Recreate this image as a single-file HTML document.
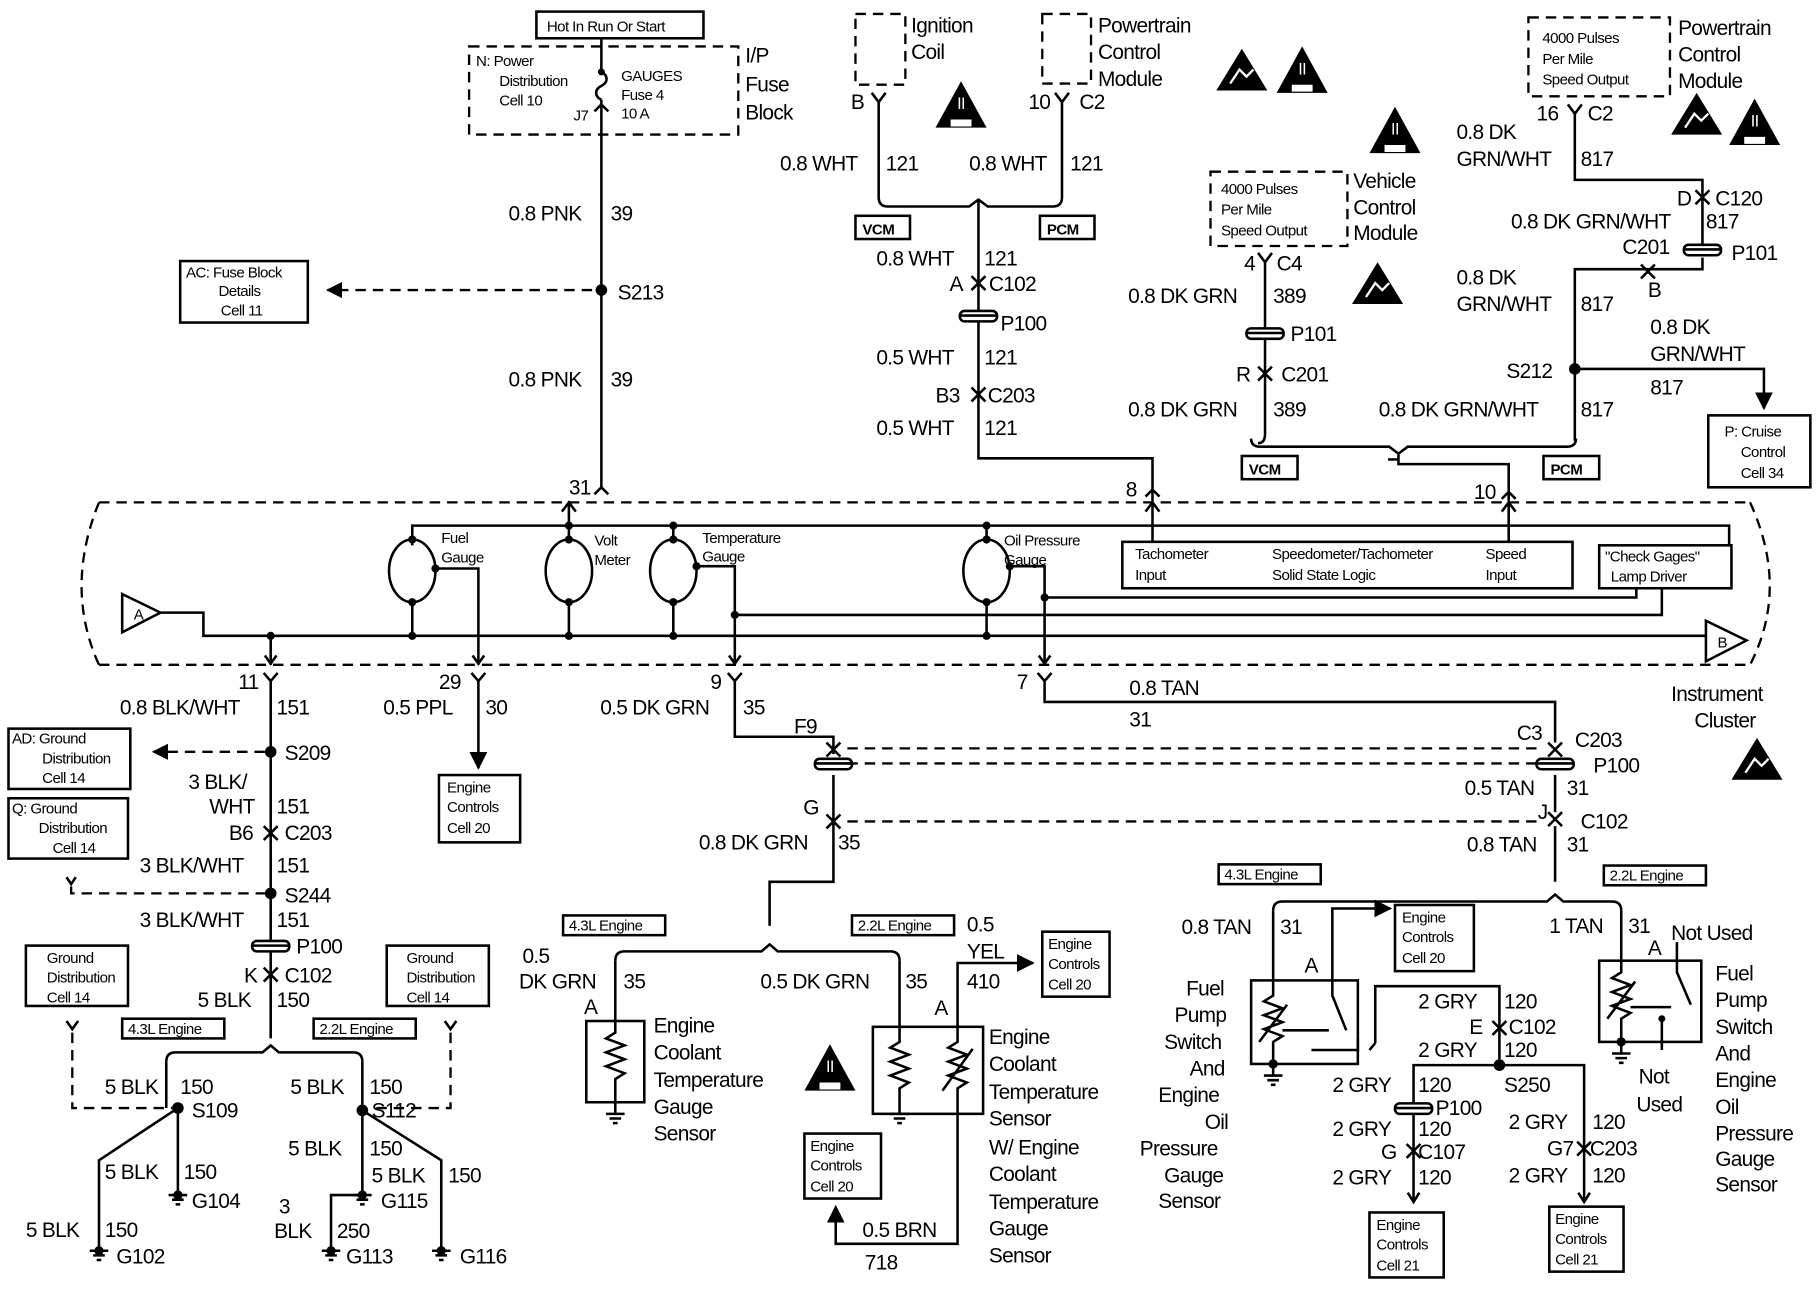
<!DOCTYPE html>
<html><head><meta charset="utf-8"><style>
html,body{margin:0;padding:0;background:#fff;}
svg{display:block}
text{font-family:"Liberation Sans",Arial,sans-serif;fill:#000}
.t{font-size:18px;letter-spacing:-0.6px}
.s{font-size:13px;letter-spacing:-0.5px}
.l{stroke:#000;stroke-width:2.2;fill:none}
.d{stroke:#000;stroke-width:2;fill:none;stroke-dasharray:9,6}
.b{stroke:#000;stroke-width:2.2;fill:#fff}
</style></head><body>
<svg width="1820" height="1296" viewBox="0 0 1568 1117" xmlns="http://www.w3.org/2000/svg">
<defs>
<marker id="ar" viewBox="0 0 10 10" refX="9" refY="5" markerWidth="7" markerHeight="7" orient="auto"><path d="M0,0L10,5L0,10z" fill="#000"/></marker>
<g id="tri"><path d="M0,40L22,0L44,40z" fill="#000"/><path d="M13,33h18v6h-18z" fill="#fff"/><text x="22" y="24" class="s" style="fill:#fff;font-size:14px" text-anchor="middle">II</text></g>
<g id="esd"><path d="M0,36L22,0L44,36z" fill="#000"/><path d="M12,30l8,-12l6,6l6,-6" stroke="#fff" stroke-width="2" fill="none"/></g>
</defs>

<!-- TOP LEFT FUSE -->
<rect x="462" y="10" width="144" height="23" class="l"/>
<text x="471" y="27" class="s">Hot In Run Or Start</text>
<rect x="404" y="40" width="232" height="76" class="d"/>
<text x="410" y="57" class="s">N: Power</text><text x="430" y="74" class="s">Distribution</text><text x="430" y="91" class="s">Cell 10</text>
<text x="535" y="70" class="s">GAUGES</text><text x="535" y="86" class="s">Fuse 4</text><text x="535" y="102" class="s">10 A</text>
<text x="494" y="104" class="s">J7</text>
<text x="642" y="54" class="t">I/P</text><text x="642" y="79" class="t">Fuse</text><text x="642" y="103" class="t">Block</text>
<path d="M518,33V62 M518,62c6,3 6,9 0,12c-6,3 -6,9 0,12 M518,86V420" class="l"/>
<circle cx="518" cy="62" r="3"/>
<path d="M512,96l6,-6l6,6" class="l"/>
<text x="438" y="190" class="t">0.8 PNK</text><text x="526" y="190" class="t">39</text>
<text x="438" y="333" class="t">0.8 PNK</text><text x="526" y="333" class="t">39</text>
<circle cx="518" cy="250" r="5"/><text x="532" y="258" class="t">S213</text>
<path d="M510,250H282" class="d" marker-end="url(#ar)"/>
<rect x="155" y="225" width="110" height="53" class="l"/>
<text x="160" y="239" class="s">AC: Fuse Block</text><text x="188" y="255" class="s">Details</text><text x="190" y="272" class="s">Cell 11</text>
<text x="490" y="426" class="t">31</text><path d="M512,426l6,-6l6,6" class="l"/>

<!-- IGNITION COIL / PCM -->
<rect x="737" y="12" width="43" height="61" class="d"/>
<text x="785" y="28" class="t">Ignition</text><text x="785" y="51" class="t">Coil</text>
<use href="#tri" x="806" y="70"/>
<text x="733" y="94" class="t">B</text><path d="M751,80l6,8l6,-8 M757,88V170q0,8 8,8H835l8,-6l8,6H907q8,0 8,-8V88 M909,80l6,8l6,-8" class="l"/>
<rect x="898" y="12" width="42" height="60" class="d"/>
<text x="946" y="28" class="t">Powertrain</text><text x="946" y="51" class="t">Control</text><text x="946" y="74" class="t">Module</text>
<use href="#esd" x="1048" y="42"/><use href="#tri" x="1100" y="40"/>
<text x="886" y="94" class="t">10</text><text x="930" y="94" class="t">C2</text>
<text x="672" y="147" class="t">0.8 WHT</text><text x="763" y="147" class="t">121</text>
<text x="835" y="147" class="t">0.8 WHT</text><text x="922" y="147" class="t">121</text>
<rect x="737" y="186" width="47" height="20" class="l"/><text x="743" y="202" class="s" style="font-weight:bold">VCM</text>
<rect x="896" y="186" width="47" height="20" class="l"/><text x="902" y="202" class="s" style="font-weight:bold">PCM</text>
<path d="M843,172V395H993V432" class="l"/>
<text x="755" y="229" class="t">0.8 WHT</text><text x="848" y="229" class="t">121</text>
<text x="818" y="251" class="t">A</text><text x="852" y="251" class="t">C102</text><path d="M837,238l6,6l6,-6 M837,250l6,-6l6,6" class="l"/>
<rect x="827" y="268" width="32" height="9" rx="4" class="b"/><path d="M827,272H859" class="l"/>
<text x="862" y="285" class="t">P100</text>
<text x="755" y="314" class="t">0.5 WHT</text><text x="848" y="314" class="t">121</text>
<text x="806" y="347" class="t">B3</text><text x="851" y="347" class="t">C203</text><path d="M837,334l6,6l6,-6 M837,346l6,-6l6,6" class="l"/>
<text x="755" y="375" class="t">0.5 WHT</text><text x="848" y="375" class="t">121</text>
<text x="970" y="428" class="t">8</text><path d="M987,428l6,-6l6,6" class="l"/>

<!-- VCM -->
<use href="#tri" x="1180" y="92"/>
<rect x="1043" y="148" width="118" height="64" class="d"/>
<text x="1052" y="167" class="s">4000 Pulses</text><text x="1052" y="185" class="s">Per Mile</text><text x="1052" y="203" class="s">Speed Output</text>
<text x="1166" y="162" class="t">Vehicle</text><text x="1166" y="185" class="t">Control</text><text x="1166" y="207" class="t">Module</text>
<use href="#esd" x="1165" y="226"/>
<text x="1072" y="233" class="t">4</text><text x="1100" y="233" class="t">C4</text>
<path d="M1084,218l6,8l6,-8 M1090,226V374q0,8 -6,8 M1090,374" class="l"/>
<text x="972" y="261" class="t">0.8 DK GRN</text><text x="1097" y="261" class="t">389</text>
<rect x="1074" y="283" width="32" height="9" rx="4" class="b"/><path d="M1074,287H1106" class="l"/>
<text x="1112" y="294" class="t">P101</text>
<text x="1065" y="329" class="t">R</text><text x="1104" y="329" class="t">C201</text><path d="M1084,316l6,6l6,-6 M1084,328l6,-6l6,6" class="l"/>
<text x="972" y="359" class="t">0.8 DK GRN</text><text x="1097" y="359" class="t">389</text>
<path d="M1078,378q0,7 8,7H1197l8,6l8,-6H1350q8,0 8,-7 M1205,391V400H1300V432" class="l"/>
<path d="M1196,396h9" class="l"/>
<rect x="1070" y="393" width="48" height="20" class="l"/><text x="1076" y="409" class="s" style="font-weight:bold">VCM</text>
<rect x="1330" y="393" width="48" height="20" class="l"/><text x="1336" y="409" class="s" style="font-weight:bold">PCM</text>
<text x="1270" y="430" class="t">10</text><path d="M1294,430l6,-6l6,6" class="l"/>

<!-- RIGHT TOP PCM -->
<rect x="1317" y="15" width="122" height="68" class="d"/>
<text x="1329" y="37" class="s">4000 Pulses</text><text x="1329" y="55" class="s">Per Mile</text><text x="1329" y="73" class="s">Speed Output</text>
<text x="1446" y="30" class="t">Powertrain</text><text x="1446" y="53" class="t">Control</text><text x="1446" y="76" class="t">Module</text>
<use href="#esd" x="1440" y="80"/><use href="#tri" x="1490" y="85"/>
<text x="1324" y="104" class="t">16</text><text x="1368" y="104" class="t">C2</text>
<path d="M1351,90l6,8l6,-8 M1357,98V155H1467V210 M1467,222V232H1357V380" class="l"/>
<text x="1255" y="120" class="t">0.8 DK</text><text x="1255" y="143" class="t">GRN/WHT</text><text x="1362" y="143" class="t">817</text>
<text x="1445" y="177" class="t">D</text><text x="1478" y="177" class="t">C120</text><path d="M1461,164l6,6l6,-6 M1461,176l6,-6l6,6" class="l"/>
<text x="1302" y="197" class="t">0.8 DK GRN/WHT</text><text x="1470" y="197" class="t">817</text>
<text x="1398" y="219" class="t">C201</text>
<rect x="1451" y="211" width="32" height="9" rx="4" class="b"/><path d="M1451,215H1483" class="l"/>
<text x="1492" y="224" class="t">P101</text>
<path d="M1414,240l6,-6l6,6 M1414,228l6,6l6,-6" class="l"/>
<text x="1420" y="256" class="t">B</text>
<text x="1255" y="245" class="t">0.8 DK</text><text x="1255" y="268" class="t">GRN/WHT</text><text x="1362" y="268" class="t">817</text>
<text x="1422" y="288" class="t">0.8 DK</text><text x="1422" y="311" class="t">GRN/WHT</text>
<circle cx="1357" cy="318" r="5"/><text x="1298" y="326" class="t">S212</text>
<path d="M1357,318H1520V352" class="l" marker-end="url(#ar)"/>
<text x="1422" y="340" class="t">817</text>
<text x="1188" y="359" class="t">0.8 DK GRN/WHT</text><text x="1362" y="359" class="t">817</text>
<rect x="1472" y="358" width="88" height="62" class="l"/>
<text x="1486" y="376" class="s">P: Cruise</text><text x="1500" y="394" class="s">Control</text><text x="1500" y="412" class="s">Cell 34</text>

<!-- CLUSTER -->
<path d="M85,433H1508 M85,573H1508" class="d"/>
<path d="M85,433Q70,470 70,505Q70,540 85,573" class="d"/>
<path d="M1508,433Q1525,470 1525,505Q1525,540 1508,573" class="d"/>
<path d="M355,470V453H1490V472 M490,453V433 M484,441l6,-8l6,8" class="l"/>
<path d="M987,441l6,-8l6,8 M993,433V467 M1294,441l6,-8l6,8 M1300,433V467" class="l"/>
<ellipse cx="355" cy="492" rx="20" ry="27" class="l"/>
<ellipse cx="490" cy="492" rx="20" ry="27" class="l"/>
<ellipse cx="580" cy="492" rx="20" ry="27" class="l"/>
<ellipse cx="850" cy="492" rx="20" ry="27" class="l"/>
<path d="M355,519V548 M490,519V548 M490,453V465 M580,519V548 M580,453V465 M850,519V548 M850,453V465" class="l"/>
<g fill="#000"><circle cx="355" cy="465" r="3.5"/><circle cx="355" cy="519" r="3.5"/><circle cx="490" cy="465" r="3.5"/><circle cx="490" cy="519" r="3.5"/><circle cx="580" cy="465" r="3.5"/><circle cx="580" cy="519" r="3.5"/><circle cx="850" cy="465" r="3.5"/><circle cx="850" cy="519" r="3.5"/>
<circle cx="490" cy="453" r="3.5"/><circle cx="580" cy="453" r="3.5"/><circle cx="850" cy="453" r="3.5"/><circle cx="375" cy="490" r="3.5"/><circle cx="600" cy="488" r="3.5"/><circle cx="870" cy="488" r="3.5"/>
<circle cx="355" cy="548" r="3.5"/><circle cx="490" cy="548" r="3.5"/><circle cx="580" cy="548" r="3.5"/><circle cx="850" cy="548" r="3.5"/><circle cx="633" cy="530" r="3.5"/><circle cx="900" cy="515" r="3.5"/><circle cx="233" cy="548" r="3.5"/></g>
<path d="M105,512V545L138,528Z" class="l"/><text x="115" y="534" class="s">A</text>
<path d="M138,528H175V548H1470" class="l"/>
<path d="M375,490H412V573 M600,488H633V573 M633,530H1432V507 M870,488H900V573 M900,515H1410V507 M233,548V573" class="l"/>
<path d="M1470,535V570L1505,552Z" class="l"/><text x="1480" y="558" class="s">B</text>
<path d="M228,565l5,7l5,-7 M407,565l5,7l5,-7 M628,565l5,7l5,-7 M895,565l5,7l5,-7" class="l"/>
<text x="380" y="468" class="s">Fuel</text><text x="380" y="485" class="s">Gauge</text>
<text x="512" y="470" class="s">Volt</text><text x="512" y="487" class="s">Meter</text>
<text x="605" y="468" class="s">Temperature</text><text x="605" y="484" class="s">Gauge</text>
<text x="865" y="470" class="s">Oil Pressure</text><text x="865" y="487" class="s">Gauge</text>
<rect x="967" y="467" width="388" height="40" class="b"/>
<text x="978" y="482" class="s">Tachometer</text><text x="978" y="500" class="s">Input</text>
<text x="1096" y="482" class="s">Speedometer/Tachometer</text><text x="1096" y="500" class="s">Solid State Logic</text>
<text x="1280" y="482" class="s">Speed</text><text x="1280" y="500" class="s">Input</text>
<rect x="1378" y="470" width="114" height="37" class="b"/>
<text x="1383" y="484" class="s">"Check Gages"</text><text x="1388" y="501" class="s">Lamp Driver</text>

<!-- LEFT BOTTOM -->
<text x="205" y="594" class="t">11</text><path d="M227,580l6,7l6,-7 M233,587V895" class="l"/>
<text x="103" y="616" class="t">0.8 BLK/WHT</text><text x="238" y="616" class="t">151</text>
<circle cx="233" cy="648" r="5"/><text x="245" y="655" class="t">S209</text>
<path d="M228,648H132" class="d" marker-end="url(#ar)"/>
<rect x="7" y="628" width="105" height="52" class="l"/>
<text x="10" y="641" class="s">AD: Ground</text><text x="36" y="658" class="s">Distribution</text><text x="36" y="675" class="s">Cell 14</text>
<text x="162" y="680" class="t">3 BLK/</text><text x="180" y="701" class="t">WHT</text><text x="238" y="701" class="t">151</text>
<text x="197" y="724" class="t">B6</text><text x="245" y="724" class="t">C203</text><path d="M227,712l6,6l6,-6 M227,724l6,-6l6,6" class="l"/>
<text x="120" y="752" class="t">3 BLK/WHT</text><text x="238" y="752" class="t">151</text>
<rect x="7" y="688" width="103" height="52" class="l"/>
<text x="10" y="701" class="s">Q:  Ground</text><text x="33" y="718" class="s">Distribution</text><text x="45" y="735" class="s">Cell 14</text>
<path d="M57,756l4,6l4,-6" class="l"/>
<path d="M61,764V770H228" class="d"/>
<circle cx="233" cy="770" r="5"/><text x="245" y="778" class="t">S244</text>
<text x="120" y="799" class="t">3 BLK/WHT</text><text x="238" y="799" class="t">151</text>
<rect x="217" y="811" width="32" height="9" rx="4" class="b"/><path d="M217,815H249" class="l"/>
<text x="255" y="822" class="t">P100</text>
<text x="210" y="847" class="t">K</text><text x="245" y="847" class="t">C102</text><path d="M227,834l6,6l6,-6 M227,846l6,-6l6,6" class="l"/>
<text x="170" y="868" class="t">5 BLK</text><text x="238" y="868" class="t">150</text>
<rect x="105" y="878" width="88" height="17" class="l"/><text x="110" y="891" class="s">4.3L Engine</text>
<rect x="270" y="878" width="88" height="17" class="l"/><text x="275" y="891" class="s">2.2L Engine</text>
<path d="M143,915q0,-8 8,-8H226l7,-6l7,6H304q8,0 8,8" class="l"/>
<rect x="22" y="815" width="88" height="52" class="l"/>
<text x="40" y="830" class="s">Ground</text><text x="40" y="847" class="s">Distribution</text><text x="40" y="864" class="s">Cell 14</text>
<rect x="333" y="815" width="88" height="52" class="l"/>
<text x="350" y="830" class="s">Ground</text><text x="350" y="847" class="s">Distribution</text><text x="350" y="864" class="s">Cell 14</text>
<path d="M57,880l5,7l5,-7 M383,880l5,7l5,-7" class="l"/>
<path d="M62,890V955H148 M388,890V955H318" class="d"/>
<path d="M143,915V955 M153,955V1030 M153,955L85,1000V1078 M312,915V1030 M312,957L380,1000V1078 M312,1030H285V1078" class="l"/>
<circle cx="153" cy="955" r="5"/><circle cx="312" cy="957" r="5"/>
<text x="90" y="943" class="t">5 BLK</text><text x="155" y="943" class="t">150</text><text x="165" y="963" class="t">S109</text>
<text x="250" y="943" class="t">5 BLK</text><text x="318" y="943" class="t">150</text><text x="320" y="963" class="t">S112</text>
<text x="90" y="1016" class="t">5 BLK</text><text x="158" y="1016" class="t">150</text><text x="165" y="1041" class="t">G104</text>
<text x="248" y="996" class="t">5 BLK</text><text x="318" y="996" class="t">150</text><text x="328" y="1041" class="t">G115</text>
<text x="320" y="1019" class="t">5 BLK</text><text x="386" y="1019" class="t">150</text><text x="396" y="1089" class="t">G116</text>
<text x="240" y="1046" class="t">3</text><text x="236" y="1067" class="t">BLK</text><text x="290" y="1067" class="t">250</text><text x="298" y="1089" class="t">G113</text>
<text x="22" y="1066" class="t">5 BLK</text><text x="90" y="1066" class="t">150</text><text x="100" y="1089" class="t">G102</text>
<g class="l">
<path d="M145,1030h16M148,1034h10M151,1038h4"/><path d="M304,1030h16M307,1034h10M310,1038h4"/>
<path d="M77,1078h16M80,1082h10M83,1086h4"/><path d="M372,1078h16M375,1082h10M378,1086h4"/><path d="M277,1078h16M280,1082h10M283,1086h4"/>
</g>
<g fill="#000"><circle cx="153" cy="1030" r="4"/><circle cx="312" cy="1030" r="4"/><circle cx="85" cy="1078" r="4"/><circle cx="380" cy="1078" r="4"/><circle cx="285" cy="1078" r="4"/></g>

<!-- MIDDLE BOTTOM -->
<text x="378" y="594" class="t">29</text><path d="M406,580l6,7l6,-7 M412,587V662" class="l" marker-end="url(#ar)"/>
<text x="330" y="616" class="t">0.5 PPL</text><text x="418" y="616" class="t">30</text>
<rect x="378" y="668" width="70" height="58" class="l"/>
<text x="385" y="683" class="s">Engine</text><text x="385" y="700" class="s">Controls</text><text x="385" y="718" class="s">Cell 20</text>
<text x="612" y="594" class="t">9</text><path d="M627,580l6,7l6,-7 M633,587V635H718V650" class="l"/>
<text x="517" y="616" class="t">0.5 DK GRN</text><text x="640" y="616" class="t">35</text>
<text x="684" y="632" class="t">F9</text>
<path d="M712,640l6,6l6,-6 M712,652l6,-6l6,6" class="l"/>
<path d="M730,645H1330 M730,708H1330" class="d"/>
<rect x="702" y="654" width="32" height="9" rx="4" class="b"/><path d="M702,658H734" class="l"/>
<path d="M730,658H1330" class="d"/>
<text x="692" y="702" class="t">G</text><path d="M712,702l6,6l6,-6 M712,714l6,-6l6,6 M718,668V760H663V798" class="l"/>
<text x="602" y="732" class="t">0.8 DK GRN</text><text x="722" y="732" class="t">35</text>
<rect x="485" y="789" width="88" height="17" class="l"/><text x="490" y="802" class="s">4.3L Engine</text>
<rect x="734" y="789" width="88" height="17" class="l"/><text x="739" y="802" class="s">2.2L Engine</text>
<path d="M530,828q0,-8 8,-8H656l7,-6l7,6H767q8,0 8,8" class="l"/>
<text x="450" y="830" class="t">0.5</text><text x="447" y="852" class="t">DK GRN</text><text x="537" y="852" class="t">35</text>
<text x="503" y="874" class="t">A</text>
<path d="M530,828V880" class="l"/>
<rect x="505" y="880" width="50" height="70" class="l"/>
<path d="M530,880V890l-8,5l16,6l-16,6l16,6l-16,6l16,6l-8,5V950V960" class="l"/>
<path d="M522,960h16M525,964h10M528,968h4" class="l"/>
<text x="563" y="890" class="t">Engine</text><text x="563" y="913" class="t">Coolant</text><text x="563" y="937" class="t">Temperature</text><text x="563" y="960" class="t">Gauge</text><text x="563" y="983" class="t">Sensor</text>
<use href="#tri" x="693" y="900"/>
<text x="655" y="852" class="t">0.5 DK GRN</text><text x="780" y="852" class="t">35</text>
<text x="805" y="875" class="t">A</text>
<path d="M775,828V885" class="l"/>
<rect x="752" y="885" width="95" height="75" class="l"/>
<path d="M775,885V898l-8,5l16,6l-16,6l16,6l-16,6l16,6l-8,5V960" class="l"/>
<path d="M825,885V898l-8,5l16,6l-16,6l16,6l-16,6l16,6l-8,5V960 M812,940l26,-36" class="l"/>
<path d="M767,960h16M770,964h10M773,968h4" class="l"/>
<text x="833" y="803" class="t">0.5</text><text x="833" y="826" class="t">YEL</text><text x="833" y="852" class="t">410</text>
<path d="M825,885V830H890" class="l" marker-end="url(#ar)"/>
<rect x="898" y="803" width="58" height="56" class="l"/>
<text x="903" y="818" class="s">Engine</text><text x="903" y="835" class="s">Controls</text><text x="903" y="853" class="s">Cell 20</text>
<text x="852" y="900" class="t">Engine</text><text x="852" y="923" class="t">Coolant</text><text x="852" y="947" class="t">Temperature</text><text x="852" y="970" class="t">Sensor</text><text x="852" y="995" class="t">W/ Engine</text><text x="852" y="1018" class="t">Coolant</text><text x="852" y="1042" class="t">Temperature</text><text x="852" y="1065" class="t">Gauge</text><text x="852" y="1088" class="t">Sensor</text>
<path d="M825,960V1072H720V1040" class="l" marker-end="url(#ar)"/>
<text x="743" y="1066" class="t">0.5 BRN</text><text x="745" y="1094" class="t">718</text>
<rect x="693" y="977" width="66" height="56" class="l"/>
<text x="698" y="992" class="s">Engine</text><text x="698" y="1009" class="s">Controls</text><text x="698" y="1027" class="s">Cell 20</text>

<!-- RIGHT BOTTOM -->
<text x="876" y="594" class="t">7</text><path d="M894,580l6,7l6,-7 M900,587V605H1340V640" class="l"/>
<text x="973" y="599" class="t">0.8 TAN</text><text x="973" y="626" class="t">31</text>
<text x="1307" y="638" class="t">C3</text><text x="1357" y="644" class="t">C203</text>
<path d="M1334,640l6,6l6,-6 M1334,652l6,-6l6,6" class="l"/>
<rect x="1324" y="654" width="32" height="9" rx="4" class="b"/><path d="M1324,658H1356" class="l"/>
<text x="1373" y="666" class="t">P100</text>
<text x="1262" y="685" class="t">0.5 TAN</text><text x="1350" y="685" class="t">31</text>
<text x="1325" y="706" class="t">J</text><text x="1362" y="714" class="t">C102</text>
<path d="M1334,700l6,6l6,-6 M1334,712l6,-6l6,6 M1340,668V700 M1340,712V760" class="l"/>
<text x="1264" y="734" class="t">0.8 TAN</text><text x="1350" y="734" class="t">31</text>
<rect x="1050" y="745" width="88" height="17" class="l"/><text x="1055" y="758" class="s">4.3L Engine</text>
<rect x="1382" y="746" width="88" height="17" class="l"/><text x="1387" y="759" class="s">2.2L Engine</text>
<path d="M1097,785q0,-8 8,-8H1333l7,-6l7,6H1389q8,0 8,8" class="l"/>
<text x="1440" y="604" class="t">Instrument</text><text x="1460" y="627" class="t">Cluster</text>
<use href="#esd" x="1492" y="636"/>
<text x="1018" y="805" class="t">0.8 TAN</text><text x="1103" y="805" class="t">31</text>
<path d="M1097,785V845" class="l"/>
<text x="1124" y="838" class="t">A</text>
<path d="M1148,845V783H1198" class="l" marker-end="url(#ar)"/>
<rect x="1202" y="780" width="68" height="57" class="l"/>
<text x="1208" y="795" class="s">Engine</text><text x="1208" y="812" class="s">Controls</text><text x="1208" y="830" class="s">Cell 20</text>
<rect x="1078" y="845" width="92" height="72" class="l"/>
<path d="M1097,845V858l-8,5l16,6l-16,6l16,6l-16,6l16,6l-8,5V917 M1085,898l24,-32 M1148,845V858l12,30 M1105,888H1145 M1130,905H1170V895" class="l"/>
<path d="M1089,927h16M1092,931h10M1095,935h4 M1097,917V927" class="l"/>
<circle cx="1097" cy="917" r="4"/>
<path d="M1180,905l5,-6 M1185,899V850H1292V913" class="l"/>
<text x="1022" y="858" class="t">Fuel</text><text x="1012" y="881" class="t">Pump</text><text x="1003" y="904" class="t">Switch</text><text x="1025" y="927" class="t">And</text><text x="998" y="950" class="t">Engine</text><text x="1038" y="973" class="t">Oil</text><text x="982" y="996" class="t">Pressure</text><text x="1003" y="1019" class="t">Gauge</text><text x="998" y="1041" class="t">Sensor</text>
<text x="1222" y="869" class="t">2 GRY</text><text x="1296" y="869" class="t">120</text>
<text x="1266" y="891" class="t">E</text><text x="1300" y="891" class="t">C102</text><path d="M1286,880l6,6l6,-6 M1286,892l6,-6l6,6" class="l"/>
<text x="1222" y="911" class="t">2 GRY</text><text x="1296" y="911" class="t">120</text>
<circle cx="1292" cy="918" r="5"/><text x="1296" y="941" class="t">S250</text>
<path d="M1292,918H1218V1035 M1292,918H1365V1035" class="l"/>
<path d="M1213,1028l5,8l5,-8 M1360,1028l5,8l5,-8" class="l"/>
<text x="1148" y="941" class="t">2 GRY</text><text x="1222" y="941" class="t">120</text>
<rect x="1202" y="951" width="32" height="9" rx="4" class="b"/><path d="M1202,955H1234" class="l"/>
<text x="1237" y="961" class="t">P100</text>
<text x="1148" y="979" class="t">2 GRY</text><text x="1222" y="979" class="t">120</text>
<text x="1190" y="999" class="t">G</text><text x="1222" y="999" class="t">C107</text><path d="M1212,986l6,6l6,-6 M1212,998l6,-6l6,6" class="l"/>
<text x="1148" y="1021" class="t">2 GRY</text><text x="1222" y="1021" class="t">120</text>
<rect x="1180" y="1045" width="64" height="56" class="l"/>
<text x="1186" y="1060" class="s">Engine</text><text x="1186" y="1077" class="s">Controls</text><text x="1186" y="1095" class="s">Cell 21</text>
<text x="1300" y="973" class="t">2 GRY</text><text x="1372" y="973" class="t">120</text>
<text x="1333" y="996" class="t">G7</text><text x="1370" y="996" class="t">C203</text><path d="M1359,984l6,6l6,-6 M1359,996l6,-6l6,6" class="l"/>
<text x="1300" y="1019" class="t">2 GRY</text><text x="1372" y="1019" class="t">120</text>
<rect x="1335" y="1040" width="64" height="56" class="l"/>
<text x="1340" y="1055" class="s">Engine</text><text x="1340" y="1072" class="s">Controls</text><text x="1340" y="1090" class="s">Cell 21</text>
<text x="1335" y="804" class="t">1 TAN</text><text x="1403" y="804" class="t">31</text>
<path d="M1397,785V828 M1445,828V812" class="l"/>
<text x="1420" y="823" class="t">A</text><text x="1440" y="810" class="t">Not Used</text>
<rect x="1378" y="828" width="88" height="70" class="l"/>
<path d="M1397,828V838l-8,5l16,6l-16,6l16,6l-16,6l16,6l-8,5V898 M1385,878l24,-32 M1445,828V838l12,28 M1405,868H1440 M1432,878V905" class="l"/>
<path d="M1389,908h16M1392,912h10M1395,916h4 M1397,898V908" class="l"/>
<circle cx="1397" cy="898" r="4"/><circle cx="1432" cy="878" r="3"/>
<text x="1412" y="934" class="t">Not</text><text x="1410" y="958" class="t">Used</text>
<text x="1478" y="845" class="t">Fuel</text><text x="1478" y="868" class="t">Pump</text><text x="1478" y="891" class="t">Switch</text><text x="1478" y="914" class="t">And</text><text x="1478" y="937" class="t">Engine</text><text x="1478" y="960" class="t">Oil</text><text x="1478" y="983" class="t">Pressure</text><text x="1478" y="1005" class="t">Gauge</text><text x="1478" y="1027" class="t">Sensor</text>
</svg>
</body></html>
